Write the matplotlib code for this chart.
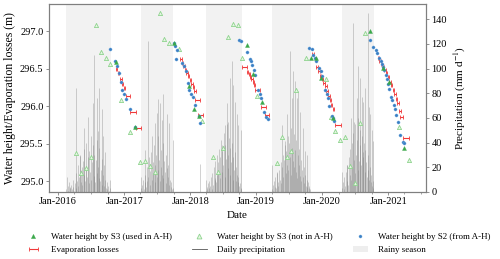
import numpy as np
import pandas as pd
import matplotlib
matplotlib.use('Agg')
import matplotlib.pyplot as plt
import matplotlib.dates as mdates
from matplotlib.lines import Line2D
from matplotlib.patches import Patch

# ---- water heights (m) ----
s3_used_dates = ['2016-11-15', '2017-03-02', '2017-10-04', '2017-12-24', '2018-01-23', '2018-02-19',
                 '2018-11-14', '2018-12-13', '2019-02-02', '2019-10-31', '2019-11-28', '2019-12-24',
                 '2020-02-28', '2020-09-20', '2020-12-04', '2021-01-06', '2021-03-29']
s3_used_h = [296.59, 295.72, 296.85, 296.27, 295.96, 295.87,
             296.82, 296.43, 296.06, 296.65, 296.65, 296.38,
             295.85, 297.00, 296.51, 296.32, 295.45]

s3_not_dates = ['2016-04-10', '2016-05-08', '2016-06-04', '2016-07-02', '2016-07-30', '2016-08-25',
                '2016-09-21', '2016-10-17', '2016-12-12', '2017-02-02',
                '2017-03-29', '2017-04-26', '2017-05-24', '2017-06-19', '2017-07-16', '2017-08-11',
                '2017-09-08', '2017-10-30', '2018-03-07',
                '2018-05-09', '2018-06-06', '2018-07-03', '2018-07-27', '2018-08-24', '2018-09-21',
                '2018-10-16', '2019-01-07',
                '2019-04-24', '2019-05-22', '2019-06-19', '2019-07-15', '2019-08-11', '2019-10-04',
                '2020-01-22', '2020-02-19', '2020-03-15', '2020-04-10', '2020-05-08', '2020-06-04',
                '2020-07-01', '2020-07-28', '2020-08-25', '2021-03-02', '2021-04-24']
s3_not_h = [295.38, 295.11, 295.18, 295.33, 297.08, 296.73,
            296.64, 296.56, 296.08, 295.66,
            295.26, 295.27, 295.20, 295.13, 297.25, 296.90,
            296.85, 296.76, 295.80,
            295.33, 295.13, 295.44, 296.92, 297.10, 297.09,
            296.65, 296.14,
            295.24, 295.59, 295.33, 295.40, 296.22, 296.65,
            296.37, 295.86, 295.67, 295.55, 295.59, 295.21,
            294.98, 295.78, 296.98, 295.73, 295.28]

s2_dates = ['2016-10-14', '2016-11-11', '2016-11-20', '2016-12-02', '2016-12-16', '2016-12-21',
            '2017-01-02', '2017-01-13', '2017-02-01', '2017-03-02',
            '2017-10-04', '2017-10-11', '2017-10-22', '2017-10-15', '2017-11-15', '2017-11-26',
            '2017-12-09', '2017-12-18', '2017-12-27', '2018-01-06', '2018-01-15', '2018-01-29',
            '2018-02-19', '2018-02-22',
            '2018-09-30', '2018-10-09', '2018-11-13', '2018-11-28', '2018-12-03', '2018-12-11',
            '2018-12-18', '2018-12-26', '2019-01-13', '2019-01-22', '2019-01-28', '2019-02-14',
            '2019-02-25', '2019-03-10',
            '2019-10-22', '2019-11-04', '2019-11-13', '2019-11-22', '2019-11-28', '2019-12-16',
            '2019-12-24', '2019-12-29', '2020-01-17', '2020-01-26', '2020-02-04', '2020-02-09',
            '2020-02-23', '2020-03-02', '2020-03-06',
            '2020-09-22', '2020-10-07', '2020-10-24', '2020-11-02', '2020-11-13', '2020-11-21',
            '2020-11-28', '2020-12-05', '2020-12-09', '2020-12-18', '2020-12-24', '2020-12-29',
            '2021-01-06', '2021-01-17', '2021-01-24', '2021-02-02', '2021-02-08', '2021-02-12',
            '2021-02-23', '2021-03-08', '2021-03-23', '2021-04-01']
s2_h = [296.76, 296.60, 296.54, 296.44, 296.33, 296.22,
        296.16, 296.10, 295.97, 295.72,
        296.85, 296.80, 296.75, 296.63, 296.58, 296.54,
        296.47, 296.31, 296.22, 296.16, 296.13, 296.02,
        295.87, 295.78,
        296.89, 296.87, 296.72, 296.63, 296.60, 296.55,
        296.48, 296.42, 296.22, 296.16, 296.11, 295.93,
        295.86, 295.83,
        296.78, 296.77, 296.69, 296.65, 296.61, 296.51,
        296.47, 296.41, 296.22, 296.16, 296.11, 296.00,
        295.87, 295.85, 295.80,
        296.89, 296.79, 296.75, 296.71, 296.65, 296.60,
        296.57, 296.53, 296.48, 296.42, 296.36, 296.30,
        296.23, 296.13, 296.09, 296.02, 295.96, 295.88,
        295.79, 295.62, 295.53, 295.51]

# ---- evaporation losses (centre date, height, half period in days) ----
evap_dates = ['2016-11-20', '2016-12-01', '2016-12-14', '2016-12-24', '2017-01-02', '2017-01-23',
              '2017-02-19', '2017-03-21',
              '2017-11-11', '2017-11-20', '2017-11-28', '2017-12-07', '2017-12-15', '2017-12-24',
              '2018-01-02', '2018-01-11', '2018-01-19', '2018-01-28', '2018-02-10', '2018-02-28',
              '2018-10-27', '2018-11-15', '2018-11-24', '2018-12-02', '2018-12-09', '2018-12-17',
              '2018-12-24', '2019-01-09', '2019-02-10', '2019-03-02',
              '2019-11-13', '2019-12-05', '2019-12-16', '2019-12-24', '2020-01-04', '2020-01-11',
              '2020-01-22', '2020-01-29', '2020-02-09', '2020-02-17', '2020-02-23', '2020-03-03',
              '2020-03-28',
              '2020-11-07', '2020-11-16', '2020-11-25', '2020-12-05', '2020-12-14', '2020-12-23',
              '2021-01-01', '2021-01-10', '2021-01-19', '2021-01-29', '2021-02-07', '2021-02-16',
              '2021-02-25', '2021-03-06', '2021-03-17', '2021-04-11']
evap_h = [296.50, 296.44, 296.37, 296.30, 296.25, 296.14,
          295.93, 295.71,
          296.63, 296.58, 296.54, 296.49, 296.44, 296.40,
          296.35, 296.30, 296.26, 296.21, 296.08, 295.88,
          296.53, 296.46, 296.43, 296.39, 296.36, 296.33,
          296.29, 296.22, 295.99, 295.88,
          296.70, 296.52, 296.47, 296.41, 296.36, 296.31,
          296.27, 296.20, 296.14, 296.09, 296.02, 295.96,
          295.75,
          296.65, 296.61, 296.57, 296.53, 296.48, 296.44,
          296.39, 296.33, 296.28, 296.22, 296.16, 296.10,
          296.04, 295.94, 295.86, 295.58]
evap_half = [4, 4, 4, 4, 4, 11,
             16, 13,
             4, 4, 4, 4, 4, 4,
             4, 4, 4, 4, 12, 14,
             14, 4, 4, 4, 4, 4,
             4, 14, 12, 11,
             5, 4, 4, 4, 4, 4,
             4, 4, 4, 4, 4, 4,
             16,
             4, 4, 4, 4, 4, 4,
             4, 4, 4, 4, 4, 4,
             4, 4, 9, 16]

# ---- rainy seasons ----
rainy_start = ['2016-02-15', '2017-04-04', '2018-03-29', '2019-03-29', '2020-04-22']
rainy_end = ['2016-10-18', '2017-09-30', '2018-10-13', '2019-10-31', '2020-10-16']

# ---- daily precipitation (mm/d): larger events ----
rain_peak_dates = ['2016-02-17', '2016-03-07', '2016-04-09', '2016-05-01', '2016-05-10', '2016-05-24',
                   '2016-06-16', '2016-07-10', '2016-07-19', '2016-08-01', '2016-08-07', '2016-08-15',
                   '2016-08-29', '2016-09-07', '2016-09-16', '2016-10-14',
                   '2017-04-04', '2017-04-26', '2017-05-14', '2017-06-02', '2017-06-20', '2017-06-30',
                   '2017-07-05', '2017-07-18', '2017-07-27', '2017-08-05', '2017-08-24', '2017-09-08',
                   '2017-09-28',
                   '2018-02-24', '2018-03-29', '2018-05-18', '2018-06-06', '2018-06-24', '2018-07-13',
                   '2018-07-22', '2018-07-31', '2018-08-09', '2018-08-19', '2018-08-28', '2018-09-06',
                   '2018-09-15', '2018-09-24', '2018-10-09',
                   '2019-03-28', '2019-04-24', '2019-05-22', '2019-06-09', '2019-06-22', '2019-07-07',
                   '2019-07-16', '2019-07-25', '2019-08-04', '2019-08-13', '2019-08-22', '2019-08-31',
                   '2019-09-15', '2019-09-28', '2019-10-11',
                   '2020-04-18', '2020-05-16', '2020-06-09', '2020-06-22', '2020-06-26', '2020-07-11',
                   '2020-07-16', '2020-07-29', '2020-08-11', '2020-08-16', '2020-08-26', '2020-09-09',
                   '2020-09-19', '2020-09-22', '2020-10-02', '2020-10-11']
rain_peak_mm = [12, 4, 84, 29, 20, 52,
                61, 72, 111, 76, 49, 84,
                67, 45, 32, 10,
                12, 34, 122, 45, 56, 64,
                75, 72, 58, 79, 63, 56,
                42,
                23, 10, 11, 24, 38, 54,
                72, 57, 92, 106, 87, 73,
                63, 54, 50,
                22, 16, 54, 41, 63, 114,
                76, 98, 90, 76, 82, 65,
                52, 33, 30,
                16, 22, 60, 137, 57, 76,
                102, 92, 77, 73, 84, 145,
                69, 63, 50, 41]

# ---- daily precipitation (mm/d): smaller events, one value every 4 days from season start ----
rain_small_start = ['2016-02-15', '2017-04-04', '2018-03-29', '2019-03-29', '2020-04-22']
rain_small_mm = [
    [2, 0, 5, 1, 8, 3, 0, 6, 2, 10, 4, 1, 7, 15, 3, 9, 22, 5, 12, 30, 8, 18, 6, 25, 14, 35, 9, 20, 40, 12,
     28, 7, 33, 16, 45, 10, 24, 38, 13, 30, 8, 26, 42, 15, 20, 11, 36, 9, 18, 27, 6, 14, 22, 5, 10, 3, 8,
     2, 5, 1, 3],
    [3, 1, 6, 10, 2, 8, 14, 4, 20, 9, 12, 28, 6, 17, 32, 10, 24, 15, 38, 8, 22, 30, 12, 45, 18, 26, 9, 34,
     20, 14, 40, 11, 25, 16, 30, 7, 19, 12, 22, 6, 10, 4, 8, 2, 3],
    [1, 4, 2, 7, 3, 9, 5, 12, 2, 15, 6, 20, 10, 25, 8, 30, 14, 18, 35, 11, 28, 42, 16, 33, 22, 48, 12, 38,
     27, 55, 19, 30, 44, 14, 36, 24, 40, 10, 28, 18, 32, 9, 20, 14, 8, 12, 5, 7, 3, 2],
    [2, 6, 1, 9, 4, 12, 3, 15, 8, 5, 18, 10, 24, 7, 20, 30, 12, 26, 38, 15, 33, 22, 45, 18, 40, 28, 52,
     14, 36, 25, 47, 20, 34, 16, 42, 11, 30, 22, 35, 13, 26, 9, 18, 12, 20, 7, 14, 5, 10, 4, 8, 3, 5, 2],
    [3, 8, 2, 12, 5, 16, 9, 22, 6, 28, 14, 35, 10, 40, 20, 48, 26, 15, 55, 30, 42, 18, 60, 25, 38, 50, 22,
     45, 32, 28, 40, 16, 34, 24, 12, 30, 18, 10, 20, 8, 14, 5, 9, 3],
]


def to_num(d):
    return mdates.date2num(pd.to_datetime(d).to_pydatetime())


plt.rcParams['font.family'] = 'Liberation Serif'
plt.rcParams['mathtext.fontset'] = 'stix'

fig = plt.figure(figsize=(5, 2.59), dpi=100)
ax = fig.add_axes([0.098, 0.259, 0.754, 0.724])
ax2 = ax.twinx()
ax.set_zorder(ax2.get_zorder() + 1)
ax.patch.set_visible(False)

# rainy season shading and precipitation on the right axis
for s, e in zip(rainy_start, rainy_end):
    ax2.axvspan(to_num(s), to_num(e), color='#f2f2f2', lw=0, zorder=0)

prec_color = '#7a7a7a'
ax2.vlines(to_num(rain_peak_dates), 0, rain_peak_mm, color=prec_color, lw=0.6, alpha=0.4)
for start, vals in zip(rain_small_start, rain_small_mm):
    days = to_num(pd.date_range(start, periods=len(vals), freq='4D'))
    ax2.vlines(days, 0, vals, color=prec_color, lw=0.6, alpha=0.4)

# water heights on left axis
green = '#3aa84a'
light_green = '#8fd48f'
blue = '#3a7fc4'
red = '#f0393a'

evap = ax.errorbar(to_num(evap_dates), evap_h, xerr=evap_half, fmt='none', ecolor=red,
                   elinewidth=0.8, capsize=1.2, capthick=0.6, zorder=3)
ax.scatter(to_num(s3_not_dates), s3_not_h, marker='^', s=9, facecolor='#e6f6e3',
           edgecolor=light_green, linewidths=0.6, zorder=4)
ax.scatter(to_num(s2_dates), s2_h, marker='o', s=5, facecolor=blue, edgecolor='#6fa8dc',
           linewidths=0.3, zorder=5)
ax.scatter(to_num(s3_used_dates), s3_used_h, marker='^', s=8, facecolor=green, edgecolor=green,
           linewidths=0.3, zorder=6)

ax.set_xlim(to_num('2015-11-12'), to_num('2021-07-29'))
ax.set_ylim(294.86, 297.36)
ax2.set_ylim(0, 152)

ax.xaxis.set_major_locator(mdates.YearLocator())
ax.xaxis.set_major_formatter(mdates.DateFormatter('%b-%Y'))
ax.xaxis.set_minor_locator(mdates.MonthLocator(bymonth=[4, 7, 10]))
ax.set_yticks([295.0, 295.5, 296.0, 296.5, 297.0])
ax.set_yticklabels(['295.0', '295.5', '296.0', '296.5', '297.0'])
ax2.set_yticks(range(0, 141, 20))

frame = '#7f7f7f'
for a in (ax, ax2):
    for sp in a.spines.values():
        sp.set_color(frame)
        sp.set_linewidth(0.8)
    a.tick_params(labelsize=7.5, length=2.5, width=0.6, color=frame, pad=1.5)
ax.tick_params(which='minor', length=1.5, width=0.5, color=frame)

ax.set_xlabel('Date', fontsize=8, labelpad=3)
ax.set_ylabel('Water height/Evaporation losses (m)', fontsize=8.5, labelpad=3)
ax2.set_ylabel('Precipitation (mm d$^{-1}$)', fontsize=8, labelpad=4)

h_used = Line2D([], [], ls='none', marker='^', ms=3, mfc=green, mec=green, mew=0.3)
h_not = Line2D([], [], ls='none', marker='^', ms=3.5, mfc='#e6f6e3', mec=light_green, mew=0.6)
h_s2 = Line2D([], [], ls='none', marker='o', ms=2.2, mfc=blue, mec='#6fa8dc', mew=0.3)
h_prec = Line2D([], [], color='#555555', lw=0.6)
h_rain = Patch(facecolor='#eeeeee', edgecolor='none')

fig.legend([h_used, evap, h_not, h_prec, h_s2, h_rain],
           ['Water height by S3 (used in A-H)', 'Evaporation losses',
            'Water height by S3 (not in A-H)', 'Daily precipitation',
            'Water height by S2 (from A-H)', 'Rainy season'],
           ncol=3, loc='lower left', bbox_to_anchor=(0.035, -0.012), frameon=False, fontsize=6.5,
           handlelength=1.7, handletextpad=1.1, columnspacing=2.2, labelspacing=0.5)

fig.savefig('out.png', dpi=100)
